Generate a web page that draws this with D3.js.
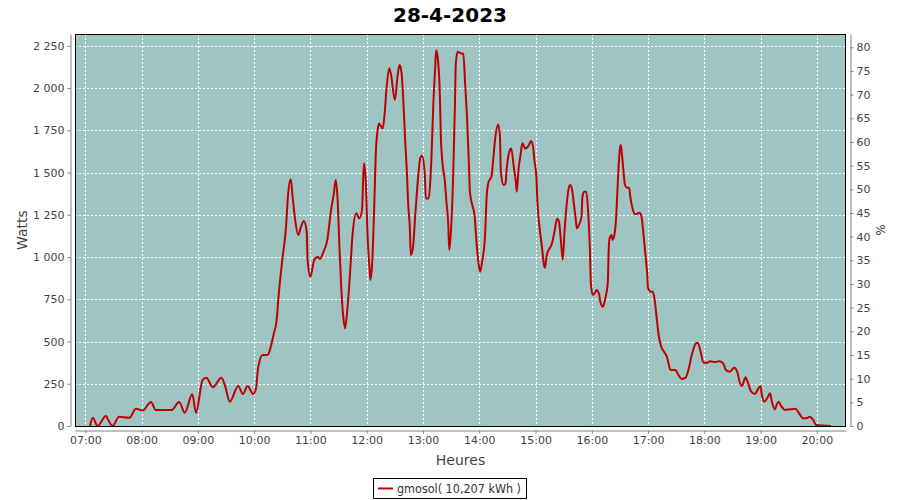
<!DOCTYPE html>
<html>
<head>
<meta charset="utf-8">
<script src="https://cdn.jsdelivr.net/npm/d3@7"></script>
<style>
  html, body { margin: 0; padding: 0; background: #ffffff; }
  svg { display: block; }
  text { font-family: "DejaVu Sans", sans-serif; }
</style>
</head>
<body>
<svg id="chart" width="900" height="500"></svg>
<script>
const chartTitle = "28-4-2023";
const seriesName = "gmosol( 10,207 kWh )";
const times = ["07:05","07:08","07:13","07:22","07:24","07:29","07:36","07:47","07:54","08:01",
"08:10","08:15","08:32","08:40","08:46","08:54","08:58","09:05","09:09","09:16",
"09:25","09:29","09:34","09:43","09:48","09:53","09:59","10:02","10:04","10:09",
"10:14","10:21","10:24","10:26","10:30","10:34","10:36","10:39","10:41","10:44",
"10:47","10:50","10:53","10:56","10:57","11:00","11:04","11:08","11:10","11:14",
"11:18","11:22","11:25","11:27","11:29","11:31","11:33","11:35","11:37","11:39",
"11:42","11:45","11:49","11:52","11:55","11:57","11:59","12:01","12:03","12:04",
"12:06","12:08","12:10","12:11","12:13","12:17","12:19","12:21","12:24","12:26",
"12:30","12:33","12:35","12:37","12:39","12:41","12:43","12:44","12:46","12:47",
"12:49","12:52","12:55","12:57","12:59","13:02","13:03","13:06","13:08","13:09",
"13:11","13:13","13:14","13:16","13:18","13:19","13:21","13:23","13:25","13:27",
"13:28","13:30","13:32","13:34","13:35","13:37","13:41","13:43","13:45","13:47",
"13:49","13:50","13:53","13:55","13:57","13:59","14:01","14:03","14:06","14:08",
"14:10","14:13","14:15","14:17","14:20","14:22","14:23","14:26","14:28","14:29",
"14:32","14:34","14:37","14:39","14:40","14:42","14:44","14:46","14:49","14:53",
"14:55","14:57","14:59","15:01","15:02","15:04","15:07","15:09","15:10","15:12",
"15:15","15:17","15:20","15:23","15:25","15:27","15:29","15:31","15:33","15:36",
"15:37","15:39","15:41","15:43","15:44","15:47","15:49","15:50","15:52","15:54",
"15:56","15:58","15:59","16:01","16:04","16:05","16:08","16:09","16:12","16:14",
"16:17","16:18","16:19","16:21","16:22","16:24","16:26","16:27","16:29","16:30",
"16:31","16:32","16:34","16:35","16:37","16:40","16:41","16:43","16:46","16:48",
"16:51","16:53","16:55","16:57","16:59","17:00","17:03","17:05","17:07","17:09",
"17:11","17:14","17:17","17:20","17:24","17:29","17:33","17:36","17:40","17:43",
"17:47","17:51","17:53","17:56","17:59","18:03","18:06","18:11","18:16","18:20",
"18:23","18:27","18:32","18:35","18:38","18:40","18:44","18:46","18:50","18:54",
"18:57","19:00","19:01","19:04","19:07","19:10","19:12","19:15","19:17","19:19",
"19:22","19:26","19:31","19:37","19:41","19:45","19:49","19:52","19:56","19:59",
"20:15"];
const watts = [0,49,0,59,40,0,55,49,102,91,
142,95,95,142,79,188,79,272,286,229,
286,237,144,237,189,237,189,223,335,420,
420,548,627,765,982,1180,1357,1460,1357,1209,
1130,1180,1213,1150,982,884,982,1002,988,1032,
1101,1278,1377,1456,1337,1052,805,647,578,667,
884,1140,1259,1229,1278,1555,1446,1120,933,864,
982,1298,1650,1720,1790,1762,1840,1988,2117,2077,
1929,2077,2136,2097,1930,1690,1485,1337,1170,1012,
1042,1268,1485,1584,1600,1485,1347,1347,1466,1584,
1900,2117,2225,2166,1959,1722,1545,1466,1327,1190,
1042,1170,1446,1880,2146,2215,2205,2205,2018,1821,
1545,1387,1298,1249,1091,972,913,972,1111,1367,
1446,1475,1584,1703,1785,1722,1505,1426,1436,1505,
1623,1643,1525,1446,1387,1525,1604,1673,1643,1663,
1687,1663,1564,1466,1327,1190,1052,953,937,1012,
1052,1071,1145,1226,1209,1100,985,1160,1300,1420,
1426,1397,1308,1219,1170,1200,1239,1357,1387,1387,
1278,1042,844,775,795,805,775,736,706,746,
844,1042,1111,1130,1101,1130,1239,1357,1574,1643,
1663,1614,1495,1436,1412,1407,1357,1298,1255,1255,
1262,1239,1140,1022,904,815,795,795,746,647,
549,469,440,410,331,331,296,278,286,331,
430,489,493,440,375,375,383,379,383,371,
331,321,345,321,253,237,288,262,203,189,
217,237,194,144,164,194,144,99,124,144,
118,95,99,102,75,46,46,55,36,6,
0];
const hourTicks = ["07:00","08:00","09:00","10:00","11:00","12:00","13:00","14:00","15:00","16:00","17:00","18:00","19:00","20:00"];
const wattTicks = [0,250,500,750,1000,1250,1500,1750,2000,2250];
const pctTicks = [0,5,10,15,20,25,30,35,40,45,50,55,60,65,70,75,80];
const xDomain = ["06:49","20:31"];
const wattMax = 2320;
const pctMax = 82.8;

const day = "2023-04-28";
const parseT = d3.timeParse("%Y-%m-%d %H:%M");
const toDate = s => parseT(day + " " + s);
const data = times.map((t, i) => ({ t: toDate(t), w: watts[i] }));

const svg = d3.select("#chart");
const L = 75, R = 846, T = 34, B = 426;

const x = d3.scaleTime().domain(xDomain.map(toDate)).range([L, R]);
const yW = d3.scaleLinear().domain([0, wattMax]).range([B, T]);
const yP = d3.scaleLinear().domain([0, pctMax]).range([B, T]);

const loc = d3.formatLocale({ decimal: ",", thousands: " ", grouping: [3], currency: ["", ""] });
const fmtW = loc.format(",d");

// title
svg.append("text").attr("x", 450).attr("y", 22).attr("text-anchor", "middle")
  .attr("font-size", 20).attr("font-weight", "bold").attr("fill", "#000").text(chartTitle);

// plot background
svg.append("rect").attr("x", L).attr("y", T).attr("width", R - L).attr("height", B - T)
  .attr("fill", "#9fc4c4");

// grid
const grid = svg.append("g").attr("stroke", "#ffffff").attr("stroke-width", 1)
  .attr("stroke-dasharray", "2,2").attr("shape-rendering", "crispEdges");
hourTicks.forEach(h => {
  const px = Math.round(x(toDate(h))) + 0.5;
  grid.append("line").attr("x1", px).attr("x2", px).attr("y1", T).attr("y2", B);
});
wattTicks.forEach(v => {
  const py = Math.round(yW(v)) + 0.5;
  grid.append("line").attr("x1", L).attr("x2", R).attr("y1", py).attr("y2", py);
});

// line
const line = d3.line().x(d => x(d.t)).y(d => yW(d.w)).curve(d3.curveMonotoneX);
svg.append("path").datum(data).attr("d", line).attr("fill", "none")
  .attr("stroke", "#c00000").attr("stroke-width", 2).attr("stroke-linejoin", "round");

// plot border
svg.append("rect").attr("x", L + 0.5).attr("y", T + 0.5).attr("width", R - L - 1).attr("height", B - T)
  .attr("fill", "none").attr("stroke", "#000").attr("stroke-width", 1).attr("shape-rendering", "crispEdges");

// axes
function styleAxis(g) {
  g.selectAll(".domain").attr("stroke", "#808080");
  g.selectAll(".tick line").attr("stroke", "#808080");
  g.selectAll(".tick text").attr("fill", "#444").attr("font-size", 11)
    .attr("font-family", "'DejaVu Sans', sans-serif");
}
const xAxis = d3.axisBottom(x).tickValues(hourTicks.map(toDate))
  .tickFormat(d3.timeFormat("%H:%M")).tickSizeInner(3).tickSizeOuter(0).tickPadding(3);
svg.append("g").attr("transform", `translate(0,${B + 4.5})`).call(xAxis).call(styleAxis);

const yAxisL = d3.axisLeft(yW).tickValues(wattTicks).tickFormat(fmtW)
  .tickSizeInner(3).tickSizeOuter(0).tickPadding(3);
svg.append("g").attr("transform", `translate(${L - 4.5},0)`).call(yAxisL).call(styleAxis);

const yAxisR = d3.axisRight(yP).tickValues(pctTicks).tickFormat(d3.format("d"))
  .tickSizeInner(3).tickSizeOuter(0).tickPadding(3);
svg.append("g").attr("transform", `translate(${R + 4.5},0)`).call(yAxisR).call(styleAxis);

// axis labels
svg.append("text").attr("x", (L + R) / 2).attr("y", 465).attr("text-anchor", "middle")
  .attr("font-size", 14).attr("fill", "#444").text("Heures");
svg.append("text").attr("transform", `translate(27,${(T + B) / 2}) rotate(-90)`)
  .attr("text-anchor", "middle").attr("font-size", 14).attr("fill", "#444").text("Watts");
svg.append("text").attr("transform", `translate(876,${(T + B) / 2}) rotate(90)`)
  .attr("text-anchor", "middle").attr("font-size", 12).attr("fill", "#444").text("%");

// legend
const lg = svg.append("g");
lg.append("rect").attr("x", 373.5).attr("y", 478.5).attr("width", 153).attr("height", 20)
  .attr("fill", "#fff").attr("stroke", "#000").attr("stroke-width", 1);
lg.append("line").attr("x1", 378).attr("x2", 393).attr("y1", 488.5).attr("y2", 488.5)
  .attr("stroke", "#c00000").attr("stroke-width", 2);
lg.append("text").attr("x", 397).attr("y", 493).attr("font-size", 12).attr("fill", "#333")
  .attr("textLength", 124).attr("lengthAdjust", "spacingAndGlyphs").text(seriesName);
</script>
</body>
</html>
